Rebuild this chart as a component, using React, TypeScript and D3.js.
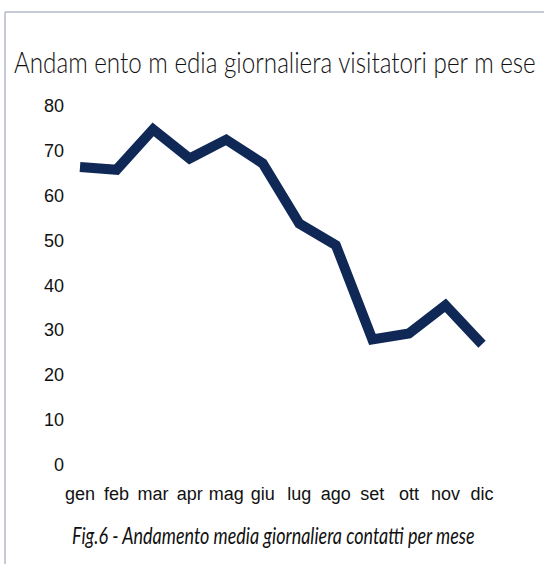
import React, { useLayoutEffect, useRef, useState } from "react";
import * as d3 from "d3";

const months = ["gen", "feb", "mar", "apr", "mag", "giu", "lug", "ago", "set", "ott", "nov", "dic"];
const visitors = [66.4, 65.8, 74.8, 68.3, 72.5, 67.2, 53.8, 49.0, 28.0, 29.3, 35.6, 26.9];
const yTicks = [0, 10, 20, 30, 40, 50, 60, 70, 80];
const title = "Andam ento m edia giornaliera visitatori per m ese";
const caption = "Fig.6 - Andamento media giornaliera contatti per mese";

function FitText(props: {
  x: number;
  y: number;
  width: number;
  fontSize: number;
  fontFamily: string;
  fontWeight?: number;
  fontStyle?: string;
  children: string;
}) {
  const ref = useRef<SVGTextElement>(null);
  const [sx, setSx] = useState(1);
  useLayoutEffect(() => {
    if (ref.current) {
      const w = ref.current.getComputedTextLength();
      if (w > 0) setSx(props.width / w);
    }
  }, [props.width, props.children]);
  return (
    <g transform={`translate(${props.x},${props.y}) scale(${sx},1)`}>
      <text
        ref={ref}
        x={0}
        y={0}
        fontFamily={props.fontFamily}
        fontWeight={props.fontWeight}
        fontStyle={props.fontStyle}
        fontSize={props.fontSize}
        fill="#111"
      >
        {props.children}
      </text>
    </g>
  );
}

export default function App() {
  const W = 544, H = 564;
  const x = d3.scalePoint<string>().domain(months).range([80, 482]);
  const y = d3.scaleLinear().domain([0, 80]).range([465, 106]);
  const line = d3
    .line<number>()
    .x((_, i) => x(months[i]) as number)
    .y((d) => y(d));

  return (
    <svg
      width={W}
      height={H}
      style={{ position: "absolute", left: 0, top: 0, background: "#fff" }}
    >
      <rect x={0} y={0} width={W} height={H} fill="#fff" />
      <line x1={5} y1={12} x2={W} y2={12} stroke="#b4b8c8" strokeWidth={1.5} />
      <line x1={5} y1={12} x2={5} y2={H} stroke="#b4b8c8" strokeWidth={1.5} />
      <FitText
        x={14}
        y={73}
        width={522}
        fontSize={30}
        fontWeight={300}
        fontFamily="Lato, 'Open Sans', sans-serif"
      >
        {title}
      </FitText>
      {yTicks.map((t) => (
        <text
          key={t}
          x={64}
          y={y(t)}
          textAnchor="end"
          dominantBaseline="central"
          fontFamily="'Liberation Sans', Arial, sans-serif"
          fontSize={18}
          fill="#111"
        >
          {t}
        </text>
      ))}
      {months.map((m) => (
        <text
          key={m}
          x={x(m) as number}
          y={500}
          textAnchor="middle"
          fontFamily="'Liberation Sans', Arial, sans-serif"
          fontSize={18}
          fill="#111"
        >
          {m}
        </text>
      ))}
      <path
        d={line(visitors) || ""}
        fill="none"
        stroke="#0f2856"
        strokeWidth={10}
        strokeLinejoin="miter"
        strokeLinecap="butt"
      />
      <FitText
        x={72}
        y={544}
        width={403}
        fontSize={23}
        fontWeight={400}
        fontStyle="italic"
        fontFamily="Lato, 'Open Sans', sans-serif"
      >
        {caption}
      </FitText>
    </svg>
  );
}
